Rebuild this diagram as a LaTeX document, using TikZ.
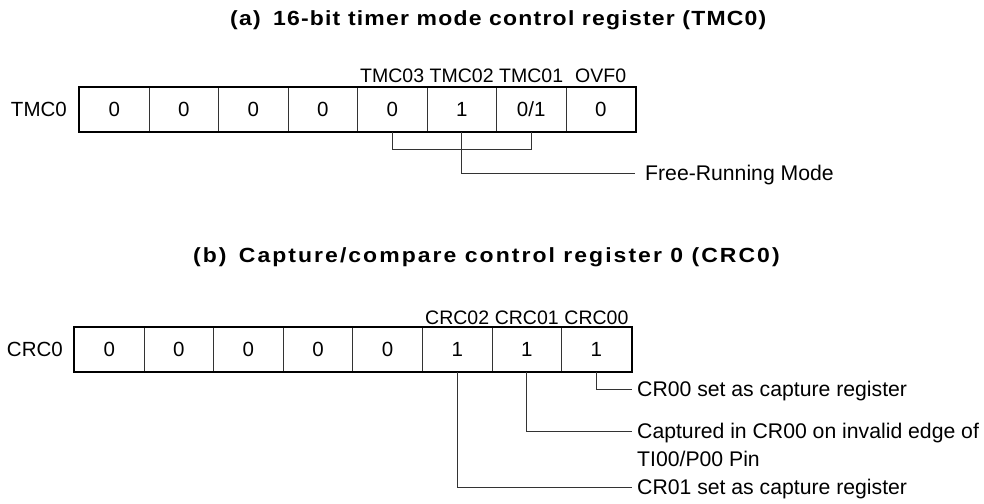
\documentclass[tikz,border=0pt]{standalone}
\usepackage{fontspec}
\setmainfont{Liberation Sans}
\begin{document}
\begin{tikzpicture}[x=1pt,y=-1pt,
  font=\fontsize{20.5}{28}\selectfont,
  cell/.style={draw=black!80, line width=0.9pt, minimum width=69.5pt, minimum height=44pt,
    inner sep=0pt, anchor=north west, text height=14.7pt, text depth=0pt},
  regbox/.style={draw=black, line width=2.2pt},
  lead/.style={draw=black!80, line width=0.9pt},
  title/.style={anchor=west, inner sep=0pt},
  txt/.style={anchor=west, inner sep=0pt, text height=15pt, text depth=0pt,
    font=\fontsize{21.2}{28}\selectfont},
  fld/.style={inner sep=0pt, text height=14pt, text depth=0pt,
    font=\fontsize{19.5}{24}\selectfont}]

\useasboundingbox (0,0) rectangle (984,503);

% ---------- (a) ----------
\node[title, font=\fontsize{20.5}{24}\selectfont\bfseries\addfontfeature{FakeStretch=1.12,LetterSpace=6}] (ta) at (230,20)
  {(a)\hspace{0.6em}16-bit timer mode control register (TMC0)};

\foreach \v [count=\i] in {0,0,0,0,0,1,0/1,0}
  \node[cell] (t\i) at ({79+(\i-1)*69.5},87) {\v};
\draw[regbox] (t1.north west) rectangle (t8.south east);
\node[inner sep=0pt, anchor=east, text height=14.7pt, text depth=0pt] (tl) at ([xshift=-12pt]t1.west) {TMC0};

\node[fld] (ft3) at ([yshift=34pt]t5.center) {TMC03};
\node[fld] (ft2) at ([yshift=34pt]t6.center) {TMC02};
\node[fld] (ft1) at ([yshift=34pt]t7.center) {TMC01};
\node[fld] (fov) at ([yshift=34pt]t8.center) {OVF0};

\node[txt] (frm) at (645,173) {Free-Running Mode};
\draw[lead] (t5.south) -- ++(0,18) -| (t7.south);
\draw[lead] (t6.south) |- ([xshift=-10pt]frm.west);

% ---------- (b) ----------
\node[title, font=\fontsize{20.5}{24}\selectfont\bfseries\addfontfeature{FakeStretch=1.12,LetterSpace=10}] (tb) at (193,257)
  {(b)\hspace{0.6em}Capture/compare control register 0 (CRC0)};

\foreach \v [count=\i] in {0,0,0,0,0,1,1,1}
  \node[cell] (c\i) at ({74+(\i-1)*69.6},327) {\v};
\draw[regbox] (c1.north west) rectangle (c8.south east);
\node[inner sep=0pt, anchor=east, text height=14.7pt, text depth=0pt] (cl) at ([xshift=-11pt]c1.west) {CRC0};

\node[fld] (fc2) at ([yshift=32pt]c6.center) {CRC02};
\node[fld] (fc1) at ([yshift=32pt]c7.center) {CRC01};
\node[fld] (fc0) at ([yshift=32pt]c8.center) {CRC00};

\node[txt] (n1) at (637,389) {CR00 set as capture register};
\node[anchor=north west, inner sep=0pt, align=left, font=\fontsize{21.2}{28}\selectfont] (n2) at (637,423)
  {Captured in CR00 on invalid edge of\\TI00/P00 Pin};
\coordinate (n2l) at (632,431);
\node[txt] (n3) at (637,487) {CR01 set as capture register};

\draw[lead] (c8.south) |- ([xshift=-5pt]n1.west);
\draw[lead] (c7.south) |- (n2l);
\draw[lead] (c6.south) |- ([xshift=-5pt]n3.west);
\end{tikzpicture}
\end{document}
